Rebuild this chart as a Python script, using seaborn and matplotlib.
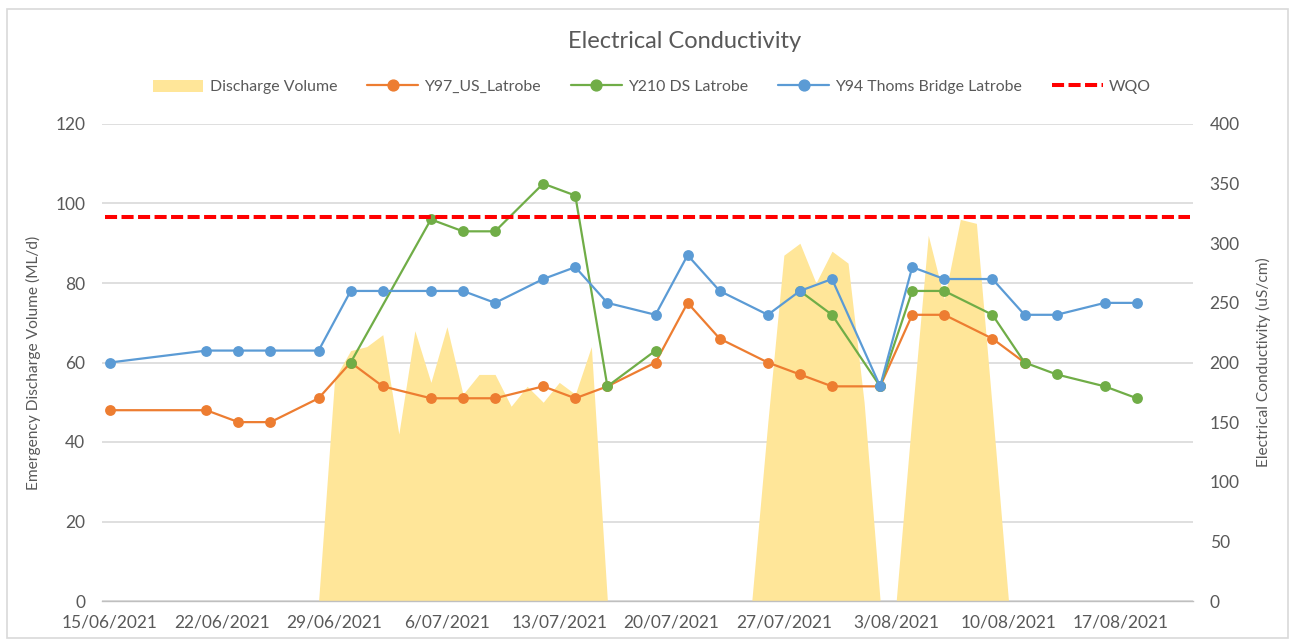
import matplotlib.pyplot as plt
import matplotlib.patches as mpatches
from matplotlib.lines import Line2D
import pandas as pd
import numpy as np
import seaborn as sns

# daily emergency discharge volume (ML/d), 15/06/2021 .. 21/08/2021
discharge = [0, 0, 0, 0, 0, 0, 0, 0, 0, 0, 0, 0, 0, 0,
             56, 63, 64, 67, 42, 68, 55, 69, 52, 57, 57, 49, 54, 50, 55, 52, 64,
             0, 0, 0, 0, 0, 0, 0, 0, 0, 0,
             45, 87, 90, 80, 88, 85, 50,
             0, 0,
             47, 92, 76, 96, 95, 48,
             0, 0, 0, 0, 0, 0, 0, 0, 0, 0, 0, 0]

# electrical conductivity samples (uS/cm)
y94_dates = ["15/06/2021", "21/06/2021", "23/06/2021", "25/06/2021", "28/06/2021", "30/06/2021",
             "2/07/2021", "5/07/2021", "7/07/2021", "9/07/2021", "12/07/2021", "14/07/2021",
             "16/07/2021", "19/07/2021", "21/07/2021", "23/07/2021", "26/07/2021", "28/07/2021",
             "30/07/2021", "2/08/2021", "4/08/2021", "6/08/2021", "9/08/2021", "11/08/2021",
             "13/08/2021", "16/08/2021", "18/08/2021"]
y94_ec = [200, 210, 210, 210, 210, 260, 260, 260, 260, 250, 270, 280, 250, 240, 290, 260,
          240, 260, 270, 180, 280, 270, 270, 240, 240, 250, 250]

y97_dates = y94_dates[:24]
y97_ec = [160, 160, 150, 150, 170, 200, 180, 170, 170, 170, 180, 170, 180, 200, 250, 220,
          200, 190, 180, 180, 240, 240, 220, 200]

y210_dates = ["30/06/2021", "5/07/2021", "7/07/2021", "9/07/2021", "12/07/2021", "14/07/2021",
              "16/07/2021", "19/07/2021", "21/07/2021", "23/07/2021", "26/07/2021", "28/07/2021",
              "30/07/2021", "2/08/2021", "4/08/2021", "6/08/2021", "9/08/2021", "11/08/2021",
              "13/08/2021", "16/08/2021", "18/08/2021"]
y210_ec = [200, 320, 310, 310, 350, 340, 180, 210, np.nan, np.nan, np.nan, 260,
           240, 180, 260, 260, 240, 200, 190, 180, 170]

wqo = 322

tick_labels = ["15/06/2021", "22/06/2021", "29/06/2021", "6/07/2021", "13/07/2021",
               "20/07/2021", "27/07/2021", "3/08/2021", "10/08/2021", "17/08/2021"]

c_area = "#FFE699"
c_y97 = "#ED7D31"
c_y210 = "#70AD47"
c_y94 = "#5B9BD5"
c_grey = "#595959"

sns.set_style("white")
plt.rcParams["font.family"] = ["Lato", "DejaVu Sans"]
plt.rcParams["font.size"] = 11

fig = plt.figure(figsize=(12.92, 6.41), dpi=100)
ax = fig.add_axes([102 / 1292, 1 - 601 / 641, 1091 / 1292, 477 / 641])
ax2 = ax.twinx()

# discharge area on the left axis
days = pd.date_range("2021-06-15", periods=len(discharge), freq="D")
ax.fill_between(days, discharge, color=c_area, lw=0, zorder=2)
ax.set_ylim(0, 120)
ax.set_yticks(np.arange(0, 121, 20))
ax.grid(axis="y", color="#D9D9D9", lw=1.2, zorder=0)
ax.set_axisbelow(True)

# conductivity lines on the right axis
line_kw = dict(marker="o", markersize=7.8, markeredgewidth=0, lw=1.6, estimator=None)

d97 = pd.DataFrame({"date": pd.to_datetime(y97_dates, dayfirst=True), "ec": y97_ec})
sns.lineplot(data=d97, x="date", y="ec", color=c_y97, ax=ax2, **line_kw)

d210 = pd.DataFrame({"date": pd.to_datetime(y210_dates, dayfirst=True), "ec": y210_ec})
d210["run"] = d210["ec"].isna().cumsum()
sns.lineplot(data=d210.dropna(), x="date", y="ec", units="run", color=c_y210, ax=ax2, **line_kw)

d94 = pd.DataFrame({"date": pd.to_datetime(y94_dates, dayfirst=True), "ec": y94_ec})
sns.lineplot(data=d94, x="date", y="ec", color=c_y94, ax=ax2, **line_kw)

ax2.axhline(wqo, xmin=0.003, xmax=0.997, color="#FF0000", lw=2.9,
            linestyle=(0, (3, 1.1)), zorder=5)
ax2.set_ylim(0, 400)
ax2.set_yticks(np.arange(0, 401, 50))

# x axis: labels centred on days, tick marks at day boundaries
ax.set_xlim(pd.Timestamp("2021-06-14 12:00"), pd.Timestamp("2021-08-21 12:00"))
major = pd.date_range("2021-06-15", periods=len(tick_labels), freq="7D")
ax.set_xticks(major)
ax.set_xticklabels(tick_labels)
ax.set_xticks(major - pd.Timedelta(hours=12), minor=True)
ax.tick_params(axis="x", which="major", length=0, pad=10, labelsize=12.5, labelcolor=c_grey)
ax.tick_params(axis="x", which="minor", length=5, width=1, color="#BFBFBF", direction="out")
ax.tick_params(axis="y", length=0, pad=12, labelsize=12.5, labelcolor=c_grey)
ax2.tick_params(axis="y", length=0, pad=12, labelsize=12.5, labelcolor=c_grey)

for s in ["top", "left", "right"]:
    ax.spines[s].set_visible(False)
ax.spines["bottom"].set_color("#BFBFBF")
ax.spines["bottom"].set_linewidth(1)
for s in ax2.spines.values():
    s.set_visible(False)

ax.set_xlabel("")
ax2.set_xlabel("")
ax.set_ylabel("Emergency Discharge Volume (ML/d)", color=c_grey, fontsize=11.2)
ax2.set_ylabel("Electrical Conductivity (uS/cm)", color=c_grey, fontsize=11.2)
ax.yaxis.set_label_coords(-0.0559, 0.5)
ax2.yaxis.set_label_coords(1.0577, 0.5)

fig.text(685 / 1292, 1 - 42 / 641, "Electrical Conductivity", ha="center", va="center",
         fontsize=17, color=c_grey)

handles = [
    mpatches.Patch(color=c_area, lw=0),
    Line2D([], [], color=c_y97, marker="o", markersize=7.8, lw=1.6),
    Line2D([], [], color=c_y210, marker="o", markersize=7.8, lw=1.6),
    Line2D([], [], color=c_y94, marker="o", markersize=7.8, lw=1.6),
    Line2D([], [], color="#FF0000", lw=2.9, linestyle=(0, (3, 1.1))),
]
labels = ["Discharge Volume", "Y97_US_Latrobe", "Y210 DS Latrobe",
          "Y94 Thoms Bridge Latrobe", "WQO"]
fig.legend(handles, labels, loc="center", bbox_to_anchor=(652 / 1292, 1 - 87 / 641),
           ncol=5, frameon=False, fontsize=11.4, handlelength=3.2, handleheight=0.8,
           columnspacing=1.9, handletextpad=0.4, labelcolor=c_grey)

# light chart-area border
fig.patches.append(mpatches.Rectangle((7 / 1292, 3 / 641), 1281 / 1292, 629 / 641,
                                      transform=fig.transFigure, fill=False,
                                      edgecolor="#D9D9D9", lw=1.2))

fig.savefig("out.png", dpi=100)
